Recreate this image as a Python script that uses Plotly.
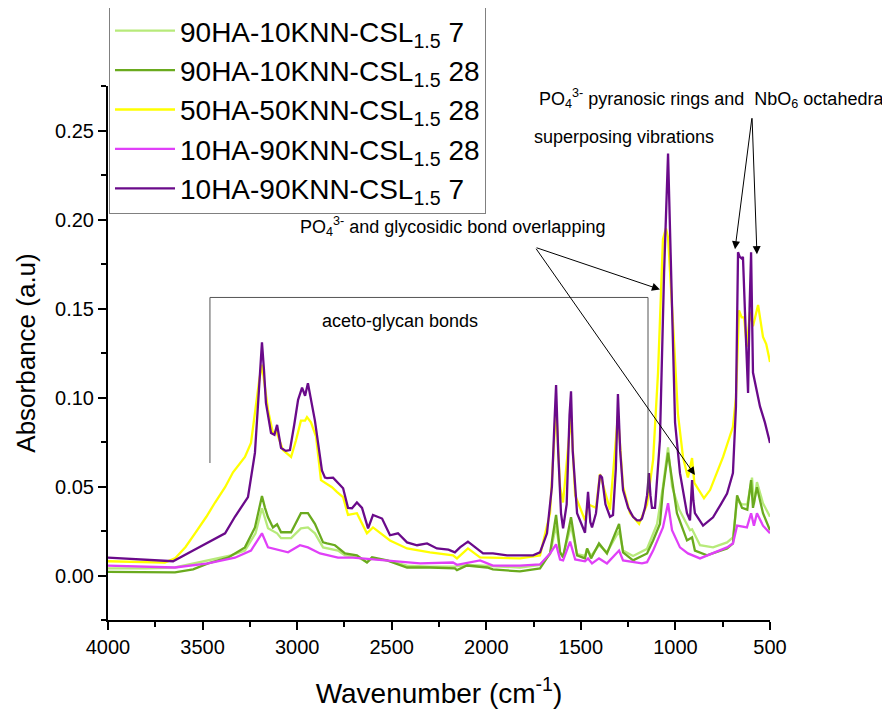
import plotly.graph_objects as go

# ---------------- data ----------------
series_names = [
    "90HA-10KNN-CSL<sub>1.5</sub> 7",
    "90HA-10KNN-CSL<sub>1.5</sub> 28",
    "50HA-50KNN-CSL<sub>1.5</sub> 28",
    "10HA-90KNN-CSL<sub>1.5</sub> 28",
    "10HA-90KNN-CSL<sub>1.5</sub> 7",
]
series_colors = ["#b7ea7a", "#6aaa1e", "#ffff00", "#e040f8", "#6a0a8a"]

lg7_wn = [4000, 3800, 3646, 3471, 3350, 3276, 3220, 3186, 3154, 3106, 3085, 3032, 2980, 2943, 2906, 2863,
          2784, 2747, 2684, 2631, 2604, 2525, 2419, 2298, 2166, 2102, 1996, 1822, 1716, 1663, 1631, 1610,
          1594, 1552, 1520, 1478, 1467, 1446, 1404, 1362, 1298, 1277, 1224, 1150, 1097, 1066, 1039, 1018,
          980, 923, 912, 870, 801, 727, 696, 674, 648, 620, 595, 585, 569, 537, 500]
lg7_abs = [0.0040, 0.0040, 0.0045, 0.0085, 0.0113, 0.0140, 0.0237, 0.0378, 0.0265, 0.0237, 0.0210, 0.0210,
           0.0265, 0.0270, 0.0237, 0.0158, 0.0140, 0.0113, 0.0105, 0.0075, 0.0095, 0.0085, 0.0055, 0.0050,
           0.0050, 0.0060, 0.0055, 0.0045, 0.0060, 0.0120, 0.0280, 0.0130, 0.0110, 0.0280, 0.0120, 0.0110,
           0.0150, 0.0110, 0.0170, 0.0130, 0.0250, 0.0140, 0.0110, 0.0150, 0.0290, 0.0500, 0.0720, 0.0500,
           0.0370, 0.0254, 0.0260, 0.0170, 0.0158, 0.0186, 0.0214, 0.0420, 0.0400, 0.0400, 0.0550, 0.0400,
           0.0525, 0.0406, 0.0330]

dg28_wn = [4000, 3800, 3646, 3550, 3471, 3366, 3276, 3223, 3186, 3170, 3154, 3128, 3106, 3085, 3032, 2980,
           2943, 2906, 2863, 2842, 2800, 2747, 2684, 2631, 2604, 2525, 2419, 2298, 2166, 2155, 2102, 1996,
           1965, 1822, 1716, 1663, 1631, 1610, 1594, 1552, 1520, 1478, 1467, 1446, 1404, 1362, 1298, 1277,
           1224, 1150, 1118, 1082, 1066, 1039, 1018, 992, 939, 912, 897, 833, 727, 696, 674, 648, 620, 600,
           590, 569, 537, 500]
dg28_abs = [0.0020, 0.0017, 0.0017, 0.0035, 0.0068, 0.0100, 0.0158, 0.0270, 0.0446, 0.0380, 0.0327, 0.0270,
            0.0288, 0.0243, 0.0243, 0.0350, 0.0350, 0.0290, 0.0186, 0.0180, 0.0170, 0.0124, 0.0113, 0.0073,
            0.0102, 0.0085, 0.0045, 0.0045, 0.0040, 0.0030, 0.0056, 0.0045, 0.0034, 0.0023, 0.0040, 0.0124,
            0.0340, 0.0130, 0.0102, 0.0327, 0.0113, 0.0096, 0.0152, 0.0096, 0.0180, 0.0124, 0.0290, 0.0130,
            0.0085, 0.0124, 0.0197, 0.0290, 0.0480, 0.0690, 0.0550, 0.0350, 0.0197, 0.0214, 0.0140, 0.0113,
            0.0152, 0.0180, 0.0450, 0.0380, 0.0370, 0.0536, 0.0380, 0.0496, 0.0350, 0.0254]

y28_wn = [4000, 3850, 3700, 3646, 3590, 3540, 3480, 3434, 3381, 3339, 3276, 3244, 3218, 3200, 3186, 3170,
          3154, 3128, 3110, 3075, 3032, 3006, 2980, 2958, 2948, 2927, 2900, 2874, 2850, 2816, 2790, 2757,
          2731, 2684, 2631, 2599, 2509, 2419, 2298, 2176, 2155, 2097, 2033, 1822, 1716, 1663, 1631, 1610,
          1594, 1552, 1530, 1478, 1462, 1420, 1399, 1346, 1304, 1277, 1240, 1192, 1150, 1118, 1092, 1066,
          1050, 1039, 1008, 987, 960, 934, 912, 900, 849, 817, 748, 696, 680, 664, 650, 637, 622, 606, 590,
          563, 537, 520, 500]
y28_abs = [0.0080, 0.0075, 0.0072, 0.0096, 0.0160, 0.0237, 0.0330, 0.0410, 0.0496, 0.0580, 0.0666, 0.0745,
           0.0970, 0.1100, 0.1184, 0.1050, 0.0930, 0.0800, 0.0810, 0.0705, 0.0666, 0.0760, 0.0870, 0.0870,
           0.0890, 0.0860, 0.0780, 0.0536, 0.0520, 0.0496, 0.0470, 0.0440, 0.0340, 0.0350, 0.0237, 0.0270,
           0.0197, 0.0152, 0.0130, 0.0113, 0.0096, 0.0152, 0.0102, 0.0096, 0.0113, 0.0350, 0.0950, 0.0500,
           0.0410, 0.0900, 0.0450, 0.0310, 0.0400, 0.0380, 0.0570, 0.0370, 0.0900, 0.0500, 0.0350, 0.0290,
           0.0400, 0.0650, 0.1140, 0.1890, 0.1950, 0.1900, 0.1326, 0.0910, 0.0666, 0.0550, 0.0660, 0.0520,
           0.0434, 0.0480, 0.0666, 0.0835, 0.1000, 0.1490, 0.1450, 0.1450, 0.1286, 0.1480, 0.1400, 0.1520,
           0.1340, 0.1300, 0.1200]

pk28_wn = [4000, 3800, 3646, 3471, 3329, 3244, 3186, 3154, 3106, 3048, 2985, 2943, 2879, 2784, 2705, 2525,
           2350, 2176, 2155, 2033, 1965, 1822, 1716, 1663, 1631, 1610, 1594, 1557, 1530, 1478, 1462, 1441,
           1404, 1362, 1298, 1277, 1177, 1150, 1118, 1066, 1039, 1018, 976, 934, 870, 727, 696, 674, 622,
           600, 585, 569, 537, 500]
pk28_abs = [0.0056, 0.0050, 0.0045, 0.0068, 0.0100, 0.0140, 0.0237, 0.0158, 0.0147, 0.0130, 0.0170, 0.0158,
            0.0124, 0.0100, 0.0100, 0.0085, 0.0068, 0.0073, 0.0060, 0.0085, 0.0056, 0.0056, 0.0062, 0.0124,
            0.0175, 0.0090, 0.0085, 0.0190, 0.0090, 0.0080, 0.0096, 0.0068, 0.0096, 0.0068, 0.0140, 0.0085,
            0.0068, 0.0075, 0.0140, 0.0270, 0.0406, 0.0254, 0.0158, 0.0124, 0.0096, 0.0158, 0.0180, 0.0280,
            0.0270, 0.0350, 0.0280, 0.0350, 0.0280, 0.0237]

pu7_wn = [4000, 3850, 3700, 3656, 3550, 3450, 3381, 3329, 3260, 3223, 3196, 3186, 3175, 3165, 3138, 3120,
          3106, 3085, 3060, 3038, 3015, 2995, 2974, 2958, 2943, 2927, 2906, 2879, 2869, 2853, 2842, 2810,
          2784, 2757, 2731, 2710, 2684, 2657, 2625, 2599, 2551, 2509, 2467, 2419, 2366, 2313, 2261, 2200,
          2166, 2139, 2097, 2049, 2017, 1965, 1890, 1753, 1716, 1679, 1653, 1640, 1631, 1620, 1605, 1594,
          1575, 1560, 1552, 1543, 1520, 1478, 1462, 1450, 1441, 1420, 1399, 1388, 1370, 1346, 1330, 1315,
          1304, 1292, 1277, 1250, 1224, 1203, 1187, 1177, 1161, 1150, 1140, 1132, 1124, 1108, 1082, 1060,
          1039, 1018, 1002, 976, 939, 923, 912, 905, 897, 854, 801, 760, 727, 696, 680, 669, 660, 648, 643,
          627, 616, 608, 600, 590, 569, 553, 527, 500]
pu7_abs = [0.0100, 0.0090, 0.0082, 0.0080, 0.0140, 0.0200, 0.0237, 0.0330, 0.0440, 0.0690, 0.1160, 0.1310,
           0.1150, 0.0970, 0.0800, 0.0790, 0.0846, 0.0716, 0.0700, 0.0705, 0.0850, 0.0987, 0.1055, 0.1010,
           0.1080, 0.0987, 0.0870, 0.0666, 0.0590, 0.0550, 0.0547, 0.0550, 0.0520, 0.0490, 0.0380, 0.0378,
           0.0410, 0.0380, 0.0265, 0.0340, 0.0320, 0.0226, 0.0237, 0.0186, 0.0170, 0.0180, 0.0152, 0.0145,
           0.0130, 0.0158, 0.0190, 0.0152, 0.0124, 0.0124, 0.0113, 0.0113, 0.0130, 0.0237, 0.0500, 0.0850,
           0.1070, 0.0700, 0.0350, 0.0265, 0.0400, 0.0900, 0.1035, 0.0700, 0.0350, 0.0240, 0.0470, 0.0300,
           0.0270, 0.0350, 0.0564, 0.0550, 0.0400, 0.0330, 0.0340, 0.0600, 0.1020, 0.0700, 0.0480, 0.0380,
           0.0330, 0.0310, 0.0310, 0.0320, 0.0380, 0.0450, 0.0575, 0.0450, 0.0380, 0.0380, 0.0760, 0.1700,
           0.2370, 0.1510, 0.0860, 0.0575, 0.0350, 0.0310, 0.0536, 0.0420, 0.0350, 0.0280, 0.0327, 0.0400,
           0.0460, 0.0575, 0.0950, 0.1816, 0.1790, 0.1780, 0.1790, 0.1326, 0.1026, 0.1500, 0.1816, 0.1140,
           0.1026, 0.0950, 0.0860, 0.0745]

x_ticks = [4000, 3500, 3000, 2500, 2000, 1500, 1000, 500]
y_ticks = [0.00, 0.05, 0.10, 0.15, 0.20, 0.25]

# ---------------- figure ----------------
FONT = "Liberation Sans, Arial, sans-serif"
fig = go.Figure()
all_x = [lg7_wn, dg28_wn, y28_wn, pk28_wn, pu7_wn]
all_y = [lg7_abs, dg28_abs, y28_abs, pk28_abs, pu7_abs]
for i, (nm, col, xs, ys) in enumerate(zip(series_names, series_colors, all_x, all_y)):
    fig.add_trace(go.Scatter(x=xs, y=ys, mode="lines", name=nm, legendgroup=f"g{i}",
                             line=dict(color=col, width=2.3)))

axis_common = dict(showline=True, linecolor="black", linewidth=2, ticks="outside", ticklen=8,
                   tickwidth=2, tickcolor="black", showgrid=False, zeroline=False, mirror=False,
                   automargin=False, tickfont=dict(family=FONT, size=20, color="black"))
fig.update_xaxes(range=[4000, 500], tickvals=x_ticks, ticktext=[str(v) for v in x_ticks],
                 minor=dict(dtick=250, tick0=500, ticks="outside", ticklen=5, tickwidth=1.5, tickcolor="black"),
                 title=dict(text="Wavenumber (cm<sup>-1</sup>)", font=dict(family=FONT, size=28, color="black"),
                            standoff=26),
                 **axis_common)
fig.update_yaxes(range=[-0.025, 0.275], tickvals=y_ticks, ticktext=[f"{v:.2f}" for v in y_ticks],
                 minor=dict(dtick=0.025, tick0=0, ticks="outside", ticklen=5, tickwidth=1.5, tickcolor="black"),
                 title=dict(text="Absorbance (a.u)", font=dict(family=FONT, size=26, color="black"),
                            standoff=12),
                 **axis_common)

# bracket for aceto-glycan bonds
br_left, br_right, br_top, br_left_bot, br_right_bot = 3461, 1145, 0.1562, 0.0632, 0.0462
for x0, y0, x1, y1 in [(br_left, br_left_bot, br_left, br_top), (br_left, br_top, br_right, br_top),
                       (br_right, br_top, br_right, br_right_bot)]:
    fig.add_shape(type="line", x0=x0, y0=y0, x1=x1, y1=y1, xref="x", yref="y",
                  line=dict(color="#555555", width=1))

ann_font = dict(family=FONT, size=18, color="black")
fig.add_annotation(x=2456, y=0.1427, xref="x", yref="y", text="aceto-glycan bonds", showarrow=False,
                   xanchor="center", yanchor="middle", font=dict(family=FONT, size=18, color="black"))
fig.add_annotation(x=0.52, y=0.737, xref="paper", yref="paper", xanchor="center", yanchor="middle",
                   text="PO<sub>4</sub><sup>3-</sup> and glycosidic bond overlapping",
                   showarrow=False, font=ann_font)
fig.add_annotation(x=0.912, y=0.977, xref="paper", yref="paper", xanchor="center", yanchor="middle",
                   text="PO<sub>4</sub><sup>3-</sup> pyranosic rings and  NbO<sub>6</sub> octahedra",
                   showarrow=False, font=ann_font)
fig.add_annotation(x=0.779, y=0.9045, xref="paper", yref="paper", xanchor="center", yanchor="middle",
                   text="superposing vibrations", showarrow=False, font=ann_font)

arrows = [
    (1742, 0.1844, 1082, 0.1607),
    (1742, 0.1844, 897, 0.0564),
    (595, 0.2577, 685, 0.1833),
    (595, 0.2577, 569, 0.1805),
]
for tx, ty, hx, hy in arrows:
    fig.add_annotation(x=hx, y=hy, ax=tx, ay=ty, xref="x", yref="y", axref="x", ayref="y", text="",
                       showarrow=True, arrowhead=2, arrowsize=1.6, arrowwidth=1, arrowcolor="black")

# the page adds an 8px body margin, so margins are reduced by 8px on left/top
fig.update_layout(
    width=890, height=710,
    margin=dict(l=100, r=128, t=78, b=98, autoexpand=False),
    paper_bgcolor="white", plot_bgcolor="white",
    font=dict(family=FONT, color="black"),
    legend=dict(x=0.0015, y=1.1517, xanchor="left", yanchor="top", bgcolor="white",
                bordercolor="#808080", borderwidth=1, itemwidth=60, tracegroupgap=0,
                font=dict(family=FONT, size=28, color="black")),
)

fig.write_html("out.html")
